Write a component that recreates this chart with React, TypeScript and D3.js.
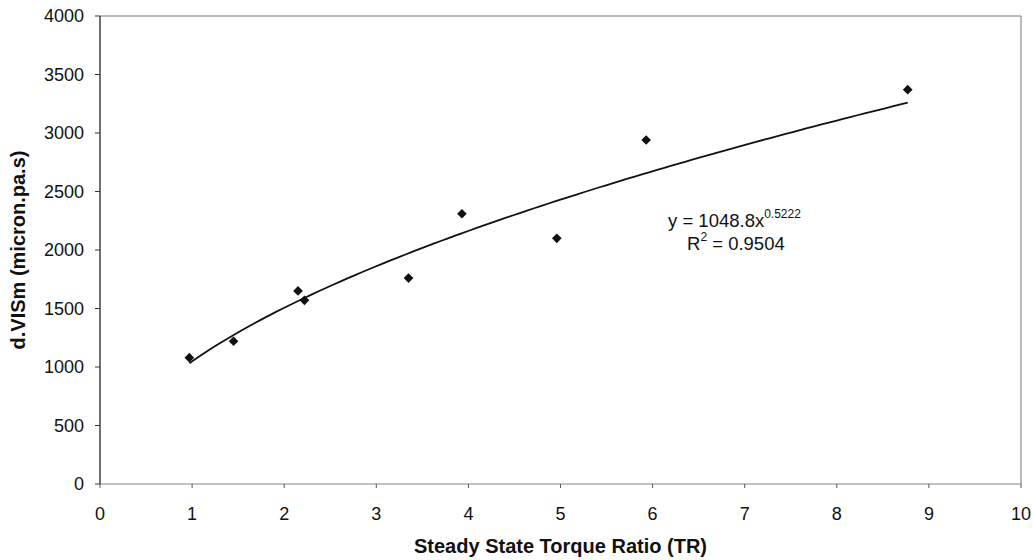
import React from "react";
import * as d3 from "d3";

const width = 1033;
const height = 560;
const margin = { top: 16, right: 12, bottom: 76, left: 100 };

// Measured points
const torqueRatio = [0.97, 1.45, 2.15, 2.22, 3.35, 3.93, 4.96, 5.93, 8.77];
const visValues = [1080, 1220, 1650, 1570, 1760, 2310, 2100, 2940, 3370];

const xTicks = [0, 1, 2, 3, 4, 5, 6, 7, 8, 9, 10];
const yTicks = [0, 500, 1000, 1500, 2000, 2500, 3000, 3500, 4000];

// Power trendline y = a * x^b
const fitA = 1048.8;
const fitB = 0.5222;
const fitR2 = "0.9504";

export default function App() {
  const x = d3
    .scaleLinear()
    .domain([0, 10])
    .range([margin.left, width - margin.right]);
  const y = d3
    .scaleLinear()
    .domain([0, 4000])
    .range([height - margin.bottom, margin.top]);

  const xMin = d3.min(torqueRatio)!;
  const xMax = d3.max(torqueRatio)!;
  const trend = d3.range(0, 101).map(i => {
    const tx = xMin + ((xMax - xMin) * i) / 100;
    return [tx, fitA * Math.pow(tx, fitB)] as [number, number];
  });
  const line = d3
    .line<[number, number]>()
    .x(d => x(d[0]))
    .y(d => y(d[1]));

  const diamond = d3.symbol().type(d3.symbolDiamond2).size(60)();
  const font = "Arial, 'Liberation Sans', sans-serif";
  const [x0, x1] = x.range();
  const [y0, y1] = y.range();

  return (
    <svg width={width} height={height} style={{ position: "absolute", left: 0, top: 0 }} fontFamily={font}>
      <rect width={width} height={height} fill="#fff" />

      {/* Frame */}
      <line x1={x0} x2={x1} y1={y1} y2={y1} stroke="#777" strokeWidth={1} />
      <line x1={x1} x2={x1} y1={y1} y2={y0} stroke="#777" strokeWidth={1} />
      <line x1={x0} x2={x1} y1={y0} y2={y0} stroke="#888" strokeWidth={1.2} />
      <line x1={x0} x2={x0} y1={y1} y2={y0} stroke="#333" strokeWidth={1.4} />

      {/* Y axis */}
      {yTicks.map(t => (
        <g key={t}>
          <line x1={x0 - 5} x2={x0} y1={y(t)} y2={y(t)} stroke="#333" />
          <text x={x0 - 16} y={y(t)} dy="0.36em" textAnchor="end" fontSize={18} fill="#111">
            {t}
          </text>
        </g>
      ))}

      {/* X axis */}
      {xTicks.map(t => (
        <g key={t}>
          <line x1={x(t)} x2={x(t)} y1={y0} y2={y0 + 4} stroke="#555" />
          <text x={x(t)} y={y0 + 36} textAnchor="middle" fontSize={18} fill="#111">
            {t}
          </text>
        </g>
      ))}

      {/* Axis titles */}
      <text
        x={(x0 + x1) / 2}
        y={553}
        textAnchor="middle"
        fontSize={20}
        fontWeight="bold"
        fill="#111"
      >
        Steady State Torque Ratio (TR)
      </text>
      <text
        transform={`translate(25, ${(y0 + y1) / 2}) rotate(-90)`}
        textAnchor="middle"
        fontSize={20}
        fontWeight="bold"
        fill="#111"
      >
        d.VISm (micron.pa.s)
      </text>

      {/* Trendline */}
      <path d={line(trend) ?? ""} fill="none" stroke="#111" strokeWidth={1.8} />

      {/* Points */}
      {torqueRatio.map((tr, i) => (
        <path
          key={i}
          d={diamond ?? ""}
          transform={`translate(${x(tr)}, ${y(visValues[i])})`}
          fill="#111"
        />
      ))}

      {/* Equation */}
      <text x={668} y={227} fontSize={18.5} fill="#111">
        y = {fitA}x
        <tspan dy={-9} fontSize={12}>
          {fitB}
        </tspan>
      </text>
      <text x={687} y={250} fontSize={18.5} fill="#111">
        R
        <tspan dy={-9} fontSize={12}>
          2
        </tspan>
        <tspan dy={9}> = {fitR2}</tspan>
      </text>
    </svg>
  );
}
